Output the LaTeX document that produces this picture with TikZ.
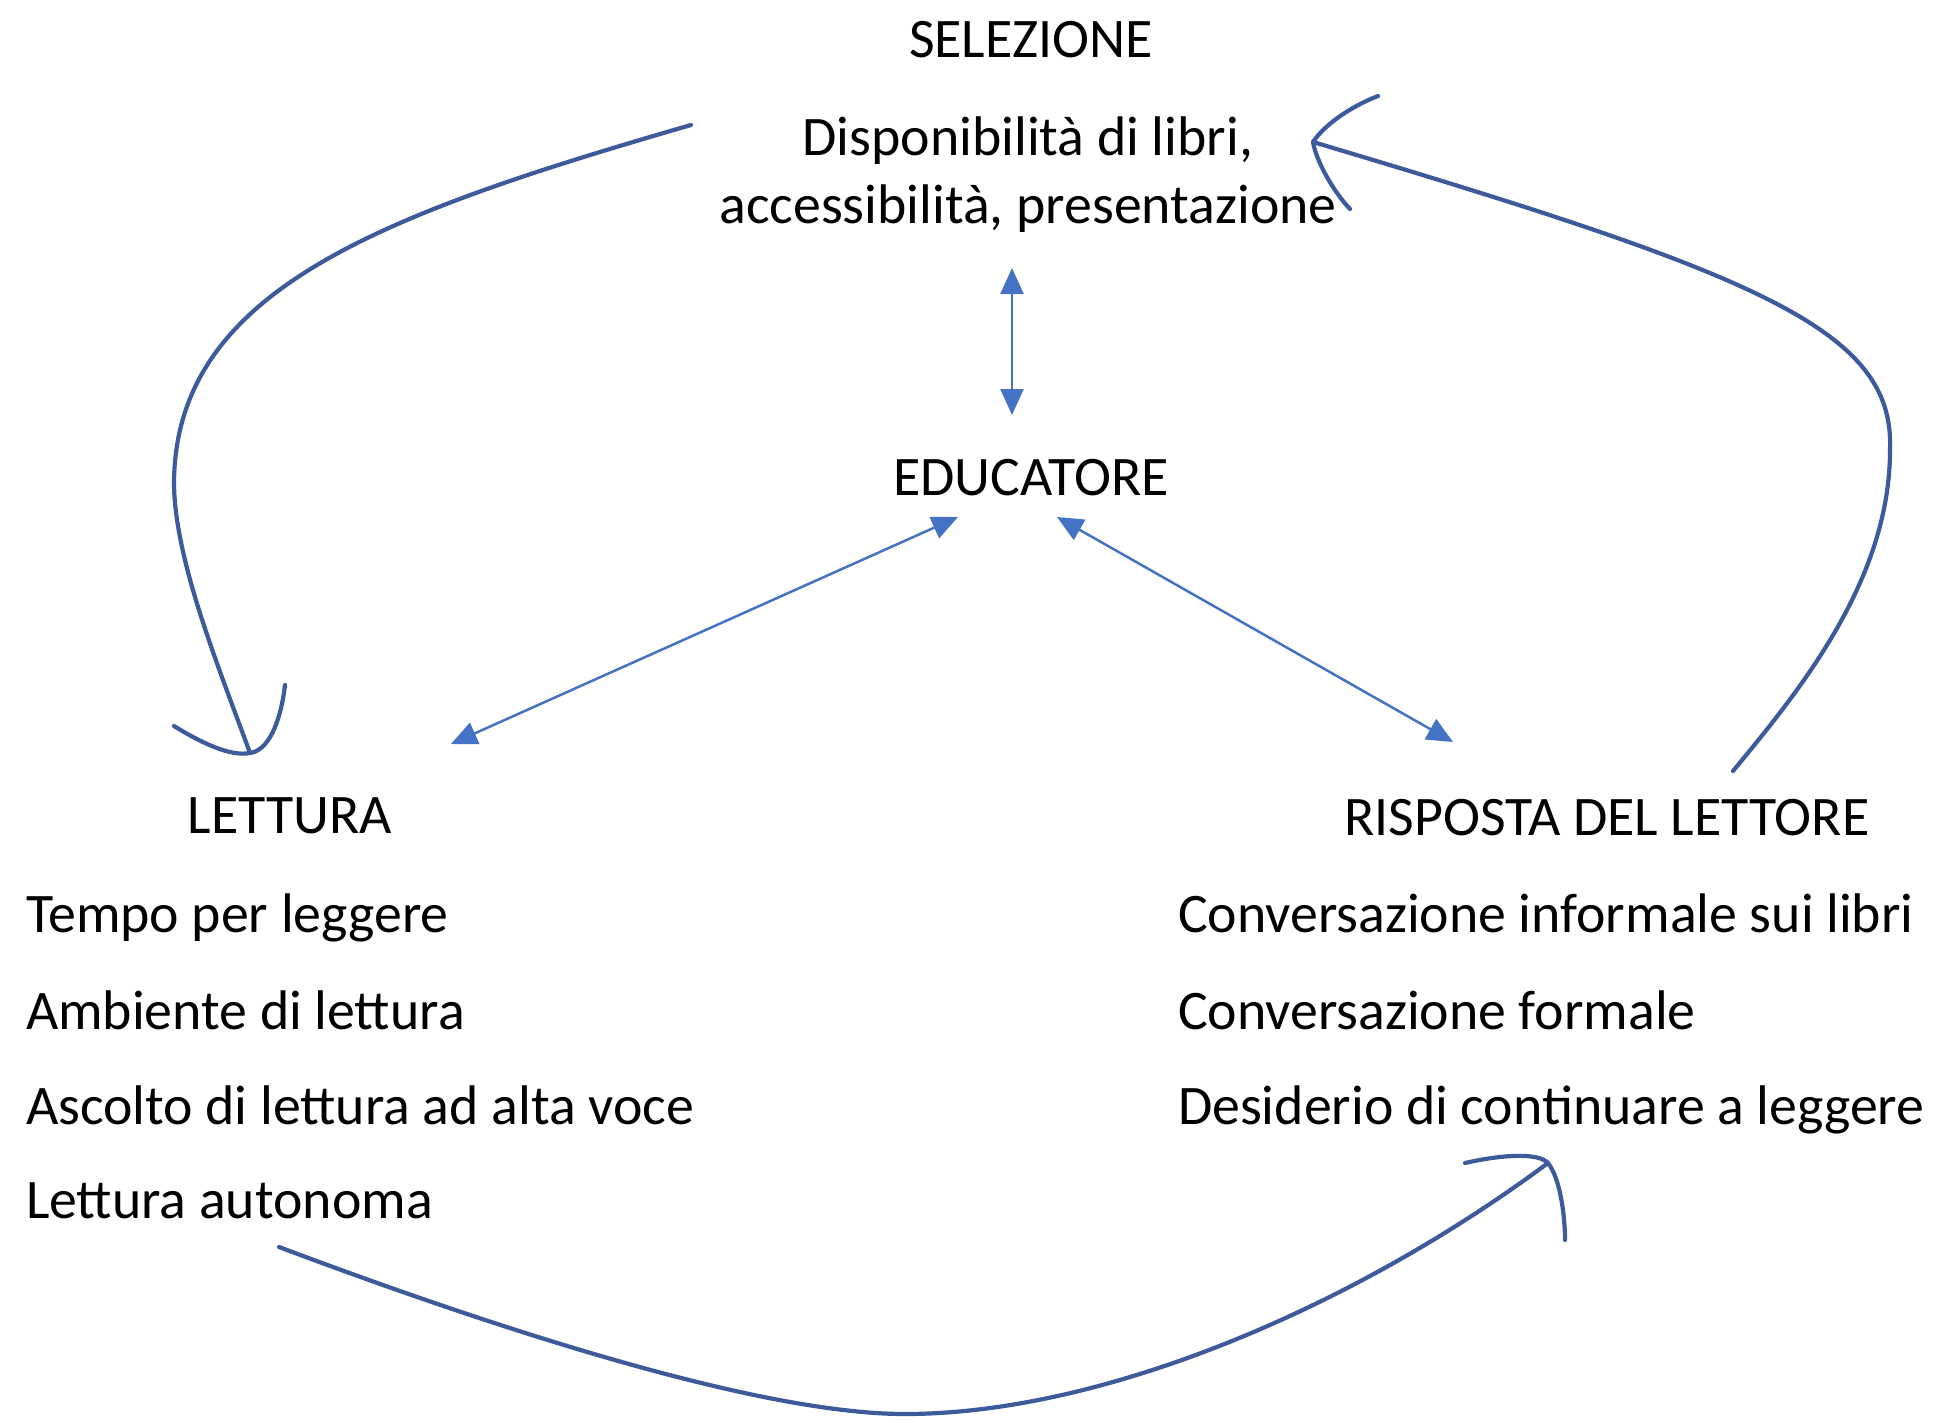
\documentclass[tikz,border=0pt]{standalone}
\usepackage{fontspec}
\setmainfont{Carlito}
\usetikzlibrary{arrows.meta}
\definecolor{curveblue}{HTML}{3D5A9B}
\definecolor{officeblue}{HTML}{4472C4}
\tikzset{
  txt/.style={inner sep=0pt, outer sep=0pt, font=\fontsize{55.8}{59}\selectfont},
  hand/.style={draw=curveblue, line width=4.2pt, line cap=round, line join=round},
  link/.style={draw=officeblue, line width=2.5pt, {Triangle[length=26pt,width=23pt]}-{Triangle[length=26pt,width=23pt]}}
}
\begin{document}
\begin{tikzpicture}[x=1pt,y=-1pt]
\useasboundingbox (0,0) rectangle (1933,1422);
% texts
\node[txt, anchor=base] (sel) at (1031,57) {SELEZIONE};
\node[txt, anchor=base] (disp1) at (1028,155) {Disponibilità di libri,};
\node[txt, anchor=base] (disp2) at (1028,223) {accessibilità, presentazione};
\node[txt, anchor=base] (edu) at (1031,495) {EDUCATORE};
\node[txt, anchor=base] (let) at (290,833) {LETTURA};
\node[txt, anchor=base west] (l1) at (26,932) {Tempo per leggere};
\node[txt, anchor=base west] (l2) at (26,1029) {Ambiente di lettura};
\node[txt, anchor=base west] (l3) at (26,1124) {Ascolto di lettura ad alta voce};
\node[txt, anchor=base west] (l4) at (26,1218) {Lettura autonoma};
\node[txt, anchor=base] (risp) at (1607,835) {RISPOSTA DEL LETTORE};
\node[txt, anchor=base west] (r1) at (1178,932) {Conversazione informale sui libri};
\node[txt, anchor=base west] (r2) at (1178,1029) {Conversazione formale};
\node[txt, anchor=base west] (r3) at (1178,1124) {Desiderio di continuare a leggere};
% connector end points
\coordinate (vtop) at (1012,268);
\coordinate (vbot) at (1012,415);
\coordinate (dlA) at (451,744);
\coordinate (dlB) at (958,517);
\coordinate (drA) at (1057,517);
\coordinate (drB) at (1453,742);
% straight double arrows
\draw[link] (vtop) -- (vbot);
\draw[link] (dlA) -- (dlB);
\draw[link] (drA) -- (drB);
% left hand-drawn arrow
\coordinate (lcS) at (691,125);
\coordinate (lcM) at (174,482);
\coordinate (lcE) at (250,753);
\draw[hand] (lcS) .. controls (380,215) and (176,290) .. (lcM)
                  .. controls (174,560) and (221,673) .. (lcE);
\draw[hand] (174,726) .. controls (200,742) and (230,757) .. (lcE)
                      .. controls (272,750) and (282,712) .. (285,685);
% right hand-drawn arrow
\coordinate (rcS) at (1733,771);
\coordinate (rcM) at (1890,450);
\coordinate (rcE) at (1313,142);
\draw[hand] (rcS) .. controls (1800,690) and (1890,580) .. (rcM)
                  .. controls (1895,330) and (1760,275) .. (rcE);
\draw[hand] (1378,96) .. controls (1352,106) and (1325,124) .. (rcE)
                      .. controls (1316,160) and (1332,190) .. (1350,209);
% bottom hand-drawn arrow
\coordinate (bcS) at (279,1247);
\coordinate (bcM) at (905,1414);
\coordinate (bcE) at (1548,1163);
\draw[hand] (bcS) .. controls (500,1330) and (760,1414) .. (bcM)
                  .. controls (1100,1414) and (1350,1310) .. (bcE);
\draw[hand] (1465,1163) .. controls (1500,1155) and (1538,1152) .. (bcE)
                        .. controls (1560,1178) and (1565,1215) .. (1565,1240);
\end{tikzpicture}
\end{document}
